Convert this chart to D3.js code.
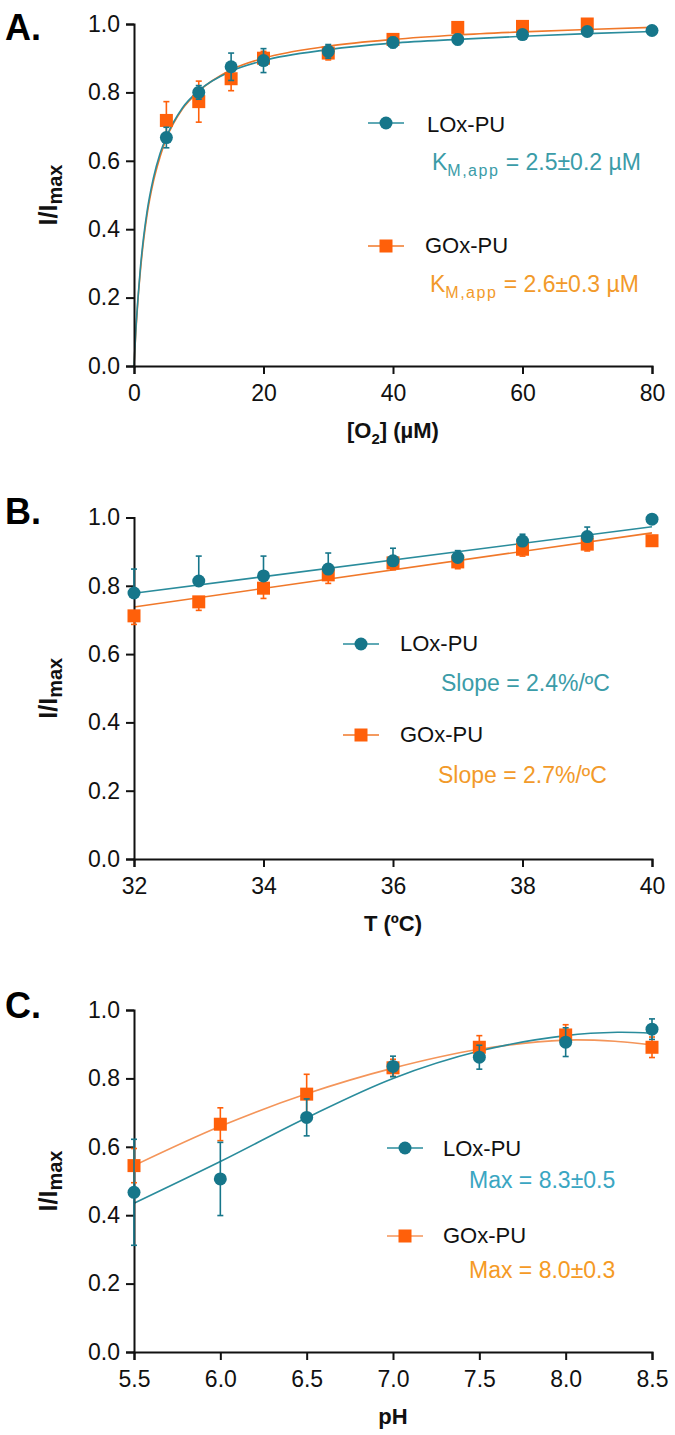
<!DOCTYPE html>
<html>
<head>
<meta charset="utf-8">
<script src="https://cdn.jsdelivr.net/npm/d3@7"></script>
<style>
  body { margin: 0; background: #fff; }
  svg text { font-family: "Liberation Sans", Arial, sans-serif; }
  .axis text { font-family: "Liberation Sans", Arial, sans-serif; font-size: 23px; fill: #111; }
  .axis path, .axis line { stroke: #111; stroke-width: 2; }
</style>
</head>
<body>
<svg id="drawing_region"></svg>
<script>
// ---- panel A : I/Imax vs [O2] ----
const o2_lox = [5, 10, 15, 20, 30, 40, 50, 60, 70, 80];
const a_lox = [0.668, 0.800, 0.875, 0.893, 0.920, 0.946, 0.955, 0.969, 0.978, 0.981];
const a_lox_err = [0.03, 0.02, 0.04, 0.035, 0.02, 0.015, 0.015, 0.01, 0.01, 0.01];
const o2_gox = [5, 10, 15, 20, 30, 40, 50, 60, 70];
const a_gox = [0.718, 0.773, 0.840, 0.900, 0.915, 0.955, 0.990, 0.993, 1.000];
const a_gox_err = [0.055, 0.06, 0.035, 0.02, 0.02, 0.01, 0.01, 0.01, 0.01];
// fitted curves
const o2_fit = [0, 0.3, 0.6, 1, 1.5, 2, 3, 4, 5, 7.5, 10, 15, 20, 30, 40, 50, 60, 70, 80];
const a_lox_fit = [0, 0.11, 0.195, 0.29, 0.38, 0.45, 0.55, 0.62, 0.67, 0.755, 0.805, 0.862, 0.893, 0.925, 0.944, 0.955, 0.964, 0.972, 0.978];
const a_gox_fit = [0, 0.105, 0.19, 0.28, 0.37, 0.44, 0.54, 0.61, 0.665, 0.752, 0.803, 0.866, 0.90, 0.935, 0.955, 0.968, 0.977, 0.984, 0.99];

// ---- panel B : I/Imax vs T ----
const temp = [32, 33, 34, 35, 36, 37, 38, 39, 40];
const b_lox = [0.779, 0.814, 0.829, 0.849, 0.873, 0.883, 0.931, 0.944, 0.995];
const b_lox_err = [0.07, 0.073, 0.058, 0.047, 0.037, 0.02, 0.02, 0.028, 0.005];
const b_gox = [0.712, 0.753, 0.793, 0.832, 0.867, 0.870, 0.907, 0.922, 0.932];
const b_gox_err = [0.025, 0.025, 0.03, 0.025, 0.02, 0.02, 0.02, 0.02, 0.015];
const temp_fit = [32, 40];
const b_lox_fit = [0.778, 0.973];
const b_gox_fit = [0.738, 0.955];

// ---- panel C : I/Imax vs pH ----
const ph = [5.5, 6.0, 6.5, 7.0, 7.5, 8.0, 8.5];
const c_lox = [0.467, 0.506, 0.686, 0.835, 0.862, 0.906, 0.944];
const c_lox_err = [0.155, 0.107, 0.054, 0.03, 0.035, 0.042, 0.03];
const c_gox = [0.545, 0.666, 0.754, 0.831, 0.891, 0.927, 0.891];
const c_gox_err = [0.05, 0.048, 0.058, 0.025, 0.034, 0.03, 0.03];
const ph_fit = [5.5, 6.0, 6.5, 7.0, 7.5, 8.0, 8.3, 8.5];
const c_lox_fit = [0.435, 0.557, 0.685, 0.80, 0.88, 0.925, 0.935, 0.932];
const c_gox_fit = [0.545, 0.66, 0.755, 0.83, 0.885, 0.912, 0.908, 0.898];

const y_ticks = [0, 0.2, 0.4, 0.6, 0.8, 1.0];

const TEAL = '#16768a', TEAL_LINE = '#2a8c9c', TEAL_TEXT = '#3b9ca8';
const ORANGE = '#ff600a', ORANGE_LINE = '#f0782a', ORANGE_TEXT = '#f29a2a';

class PanelChart {

  constructor( config, series ) {
    this.config = {
      parent: config.parent,
      left: config.left || 134,
      right: config.right || 652,
      top: config.top,
      bottom: config.bottom,
      xdomain: config.xdomain,
      xticks: config.xticks,
      xformat: config.xformat,
      xlabel: config.xlabel,
      letter: config.letter,
      letterY: config.letterY,
      legend: config.legend
    }
    this.series = series;
    this.init();
  }

  init() {
    let self = this;

    self.chart = d3.select( self.config.parent ).append('g');

    self.xscale = d3.scaleLinear()
      .domain( self.config.xdomain )
      .range( [self.config.left, self.config.right] );

    self.yscale = d3.scaleLinear()
      .domain( [0, 1] )
      .range( [self.config.bottom, self.config.top] );

    self.xaxis = d3.axisBottom( self.xscale )
      .tickValues( self.config.xticks )
      .tickFormat( self.config.xformat )
      .tickSizeOuter(0)
      .tickSize(8)
      .tickPadding(11);

    self.yaxis = d3.axisLeft( self.yscale )
      .tickValues( y_ticks )
      .tickFormat( d3.format('.1f') )
      .tickSizeOuter(0)
      .tickSize(8)
      .tickPadding(6);
  }

  update() {
    let self = this;
    self.render();
  }

  render() {
    let self = this;
    const c = self.config;

    // fitted curves
    self.series.forEach( s => {
      const line = d3.line()
        .x( (d,i) => self.xscale( s.fitX[i] ) )
        .y( d => self.yscale( d ) )
        .curve( s.curve );
      self.chart.append('path')
        .attr('d', line( s.fitY ))
        .attr('fill', 'none')
        .attr('stroke', s.lineColor)
        .attr('stroke-width', 1.6);
    });

    // axes
    self.chart.append('g')
      .attr('class', 'axis')
      .attr('transform', `translate(0, ${c.bottom})`)
      .call( self.xaxis );

    self.chart.append('g')
      .attr('class', 'axis')
      .attr('transform', `translate(${c.left}, 0)`)
      .call( self.yaxis );

    // error bars + markers
    self.series.forEach( s => {
      const g = self.chart.append('g');
      const pts = s.x.map( (x,i) => ({ x: x, y: s.y[i], e: s.err[i] }) );
      const lo = d => s.errDir == 'up' ? d.y : d.y - d.e;
      const hi = d => s.errDir == 'down' ? d.y : d.y + d.e;

      g.selectAll('line.bar')
        .data(pts)
        .join('line')
        .attr('class', 'bar')
        .attr('x1', d => self.xscale(d.x))
        .attr('x2', d => self.xscale(d.x))
        .attr('y1', d => self.yscale(lo(d)))
        .attr('y2', d => self.yscale(hi(d)))
        .attr('stroke', s.color)
        .attr('stroke-width', 1.6);

      const caps = [];
      pts.forEach( d => {
        if (s.errDir != 'up') caps.push({ x: d.x, v: lo(d) });
        if (s.errDir != 'down') caps.push({ x: d.x, v: hi(d) });
      });
      g.selectAll('line.cap')
        .data(caps)
        .join('line')
        .attr('class', 'cap')
        .attr('x1', d => self.xscale(d.x) - 3)
        .attr('x2', d => self.xscale(d.x) + 3)
        .attr('y1', d => self.yscale(d.v))
        .attr('y2', d => self.yscale(d.v))
        .attr('stroke', s.color)
        .attr('stroke-width', 1.6);

      if (s.shape == 'circle') {
        g.selectAll('circle')
          .data(pts)
          .join('circle')
          .attr('cx', d => self.xscale(d.x))
          .attr('cy', d => self.yscale(d.y))
          .attr('r', 6.5)
          .attr('fill', s.color);
      } else {
        g.selectAll('rect')
          .data(pts)
          .join('rect')
          .attr('x', d => self.xscale(d.x) - 6.5)
          .attr('y', d => self.yscale(d.y) - 6.5)
          .attr('width', 13)
          .attr('height', 13)
          .attr('fill', s.color);
      }
    });

    // axis titles
    const xl = self.chart.append('text')
      .attr('x', (c.left + c.right) / 2)
      .attr('y', c.bottom + 72)
      .attr('text-anchor', 'middle')
      .attr('font-size', 22)
      .attr('font-weight', 'bold')
      .attr('fill', '#111');
    self.addParts( xl, c.xlabel, 15, 6 );

    const yl = self.chart.append('text')
      .attr('transform', `translate(57, ${(c.top + c.bottom) / 2}) rotate(-90)`)
      .attr('text-anchor', 'middle')
      .attr('font-size', 25)
      .attr('font-weight', 'bold')
      .attr('fill', '#111');
    self.addParts( yl, [{t: 'I/I'}, {t: 'max', sub: true}], 20, 5 );

    // panel letter
    self.chart.append('text')
      .attr('x', 5)
      .attr('y', c.letterY)
      .attr('font-size', 36)
      .attr('font-weight', 'bold')
      .attr('fill', '#000')
      .text( c.letter );

    // legend
    c.legend.forEach( (lg, i) => {
      const s = self.series[i];
      const g = self.chart.append('g');
      g.append('line')
        .attr('x1', lg.mx - 18).attr('x2', lg.mx + 18)
        .attr('y1', lg.my).attr('y2', lg.my)
        .attr('stroke', s.lineColor)
        .attr('stroke-width', 1.6);
      if (s.shape == 'circle') {
        g.append('circle').attr('cx', lg.mx).attr('cy', lg.my).attr('r', 6.5).attr('fill', s.color);
      } else {
        g.append('rect').attr('x', lg.mx - 6.5).attr('y', lg.my - 6.5)
          .attr('width', 13).attr('height', 13).attr('fill', s.color);
      }
      g.append('text')
        .attr('x', lg.tx).attr('y', lg.ty)
        .attr('font-size', 22)
        .attr('fill', '#111')
        .text( s.name );
      const note = g.append('text')
        .attr('x', lg.nx).attr('y', lg.ny)
        .attr('font-size', 23)
        .attr('fill', s.textColor);
      self.addParts( note, lg.note, 16, 6 );
    });
  }

  addParts( text, parts, subSize, subShift ) {
    parts.forEach( p => {
      const ts = text.append('tspan').text( p.t );
      if (p.sub) {
        ts.attr('font-size', subSize).attr('dy', subShift);
        if (p.spacing) ts.attr('letter-spacing', p.spacing);
      } else if (p.after) {
        ts.attr('dy', -subShift);
      }
    });
  }

}

const svg = d3.select('#drawing_region')
  .attr('width', 675)
  .attr('height', 1435);

const chartA = new PanelChart( {
  parent: '#drawing_region',
  top: 24, bottom: 366,
  xdomain: [0, 80], xticks: [0, 20, 40, 60, 80], xformat: d3.format('d'),
  xlabel: [{t: '[O'}, {t: '2', sub: true}, {t: '] (µM)', after: true}],
  letter: 'A.', letterY: 40,
  legend: [
    { mx: 386, my: 246, tx: 425, ty: 253, nx: 430, ny: 292,
      note: [{t: 'K'}, {t: 'M,app', sub: true, spacing: 1.5}, {t: ' = 2.6±0.3 µM', after: true}] },
    { mx: 386, my: 123, tx: 427, ty: 132, nx: 432, ny: 170,
      note: [{t: 'K'}, {t: 'M,app', sub: true, spacing: 1.5}, {t: ' = 2.5±0.2 µM', after: true}] }
  ]
}, [
  { name: 'GOx-PU', color: ORANGE, lineColor: ORANGE_LINE, textColor: ORANGE_TEXT, shape: 'square',
    x: o2_gox, y: a_gox, err: a_gox_err, errDir: 'both', fitX: o2_fit, fitY: a_gox_fit, curve: d3.curveMonotoneX },
  { name: 'LOx-PU', color: TEAL, lineColor: TEAL_LINE, textColor: TEAL_TEXT, shape: 'circle',
    x: o2_lox, y: a_lox, err: a_lox_err, errDir: 'both', fitX: o2_fit, fitY: a_lox_fit, curve: d3.curveMonotoneX }
] );
chartA.update();

const chartB = new PanelChart( {
  parent: '#drawing_region',
  top: 517.5, bottom: 859,
  xdomain: [32, 40], xticks: [32, 34, 36, 38, 40], xformat: d3.format('d'),
  xlabel: [{t: 'T (ºC)'}],
  letter: 'B.', letterY: 524,
  legend: [
    { mx: 361, my: 735, tx: 400, ty: 742, nx: 438, ny: 783,
      note: [{t: 'Slope = 2.7%/ºC'}] },
    { mx: 361, my: 644, tx: 400, ty: 651, nx: 441, ny: 691,
      note: [{t: 'Slope = 2.4%/ºC'}] }
  ]
}, [
  { name: 'GOx-PU', color: ORANGE, lineColor: ORANGE_LINE, textColor: ORANGE_TEXT, shape: 'square',
    x: temp, y: b_gox, err: b_gox_err, errDir: 'down', fitX: temp_fit, fitY: b_gox_fit, curve: d3.curveLinear },
  { name: 'LOx-PU', color: TEAL, lineColor: TEAL_LINE, textColor: TEAL_TEXT, shape: 'circle',
    x: temp, y: b_lox, err: b_lox_err, errDir: 'up', fitX: temp_fit, fitY: b_lox_fit, curve: d3.curveLinear }
] );
chartB.update();

const chartC = new PanelChart( {
  parent: '#drawing_region',
  top: 1010, bottom: 1352,
  xdomain: [5.5, 8.5], xticks: ph, xformat: d3.format('.1f'),
  xlabel: [{t: 'pH'}],
  letter: 'C.', letterY: 1018,
  legend: [
    { mx: 405, my: 1236, tx: 443, ty: 1243, nx: 469, ny: 1278,
      note: [{t: 'Max = 8.0±0.3'}] },
    { mx: 405, my: 1148, tx: 443, ty: 1156, nx: 469, ny: 1188,
      note: [{t: 'Max = 8.3±0.5'}] }
  ]
}, [
  { name: 'GOx-PU', color: ORANGE, lineColor: '#f4955a', textColor: '#f59a25', shape: 'square',
    x: ph, y: c_gox, err: c_gox_err, errDir: 'both', fitX: ph_fit, fitY: c_gox_fit, curve: d3.curveCatmullRom },
  { name: 'LOx-PU', color: TEAL, lineColor: TEAL_LINE, textColor: '#3aa6c2', shape: 'circle',
    x: ph, y: c_lox, err: c_lox_err, errDir: 'both', fitX: ph_fit, fitY: c_lox_fit, curve: d3.curveCatmullRom }
] );
chartC.update();
</script>
</body>
</html>
